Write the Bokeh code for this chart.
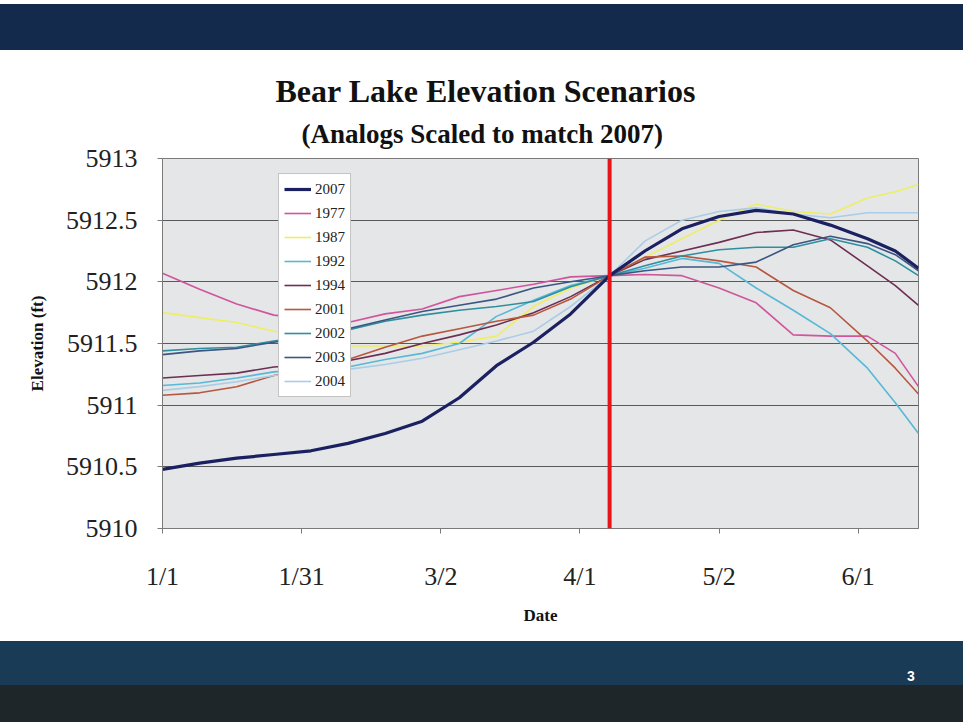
from bokeh.plotting import figure
from bokeh.layouts import column
from bokeh.models import (Span, Legend, LegendItem, Title, Div,
                          FixedTicker, NumeralTickFormatter, Range1d)
from bokeh.embed import file_html
from bokeh.resources import INLINE

# ---------------- data (days since Jan 1, elevation in ft) ----------------
days = [0, 8, 16, 24, 32, 40, 48, 56, 64, 72, 80, 88, 96.4,
        104, 112, 120, 128, 136, 144, 152, 158, 163]

elev_2007 = [5910.48, 5910.53, 5910.57, 5910.60, 5910.63, 5910.69, 5910.77, 5910.87,
             5911.06, 5911.32, 5911.51, 5911.74, 5912.05,
             5912.25, 5912.43, 5912.53, 5912.58, 5912.55, 5912.46, 5912.35, 5912.25, 5912.11]
elev_1977 = [5912.07, 5911.94, 5911.82, 5911.73, 5911.70, 5911.67, 5911.74, 5911.78,
             5911.88, 5911.93, 5911.98, 5912.04, 5912.05,
             5912.06, 5912.05, 5911.95, 5911.83, 5911.57, 5911.56, 5911.56, 5911.42, 5911.15]
elev_1987 = [5911.75, 5911.71, 5911.67, 5911.60, 5911.55, 5911.48, 5911.48, 5911.48,
             5911.51, 5911.56, 5911.80, 5911.95, 5912.05,
             5912.20, 5912.35, 5912.50, 5912.63, 5912.57, 5912.55, 5912.68, 5912.73, 5912.79]
elev_1992 = [5911.16, 5911.18, 5911.22, 5911.27, 5911.29, 5911.31, 5911.37, 5911.42,
             5911.50, 5911.72, 5911.85, 5911.97, 5912.05,
             5912.11, 5912.19, 5912.15, 5911.95, 5911.77, 5911.58, 5911.30, 5911.02, 5910.77]
elev_1994 = [5911.22, 5911.24, 5911.26, 5911.31, 5911.33, 5911.36, 5911.42, 5911.50,
             5911.57, 5911.65, 5911.75, 5911.88, 5912.05,
             5912.18, 5912.25, 5912.32, 5912.40, 5912.42, 5912.34, 5912.13, 5911.97, 5911.81]
elev_2001 = [5911.08, 5911.10, 5911.15, 5911.24, 5911.30, 5911.37, 5911.47, 5911.56,
             5911.62, 5911.68, 5911.73, 5911.86, 5912.05,
             5912.20, 5912.21, 5912.17, 5912.12, 5911.93, 5911.79, 5911.52, 5911.30, 5911.09]
elev_2002 = [5911.44, 5911.46, 5911.47, 5911.52, 5911.56, 5911.61, 5911.68, 5911.73,
             5911.77, 5911.80, 5911.84, 5911.96, 5912.05,
             5912.13, 5912.21, 5912.26, 5912.28, 5912.28, 5912.35, 5912.28, 5912.17, 5912.05]
elev_2003 = [5911.41, 5911.44, 5911.46, 5911.51, 5911.56, 5911.62, 5911.69, 5911.76,
             5911.81, 5911.86, 5911.95, 5912.00, 5912.05,
             5912.09, 5912.12, 5912.12, 5912.16, 5912.30, 5912.37, 5912.31, 5912.22, 5912.09]
elev_2004 = [5911.12, 5911.15, 5911.19, 5911.24, 5911.27, 5911.29, 5911.33, 5911.38,
             5911.45, 5911.52, 5911.60, 5911.80, 5912.05,
             5912.33, 5912.50, 5912.57, 5912.60, 5912.55, 5912.52, 5912.56, 5912.56, 5912.56]

series_names = ["2007", "1977", "1987", "1992", "1994", "2001", "2002", "2003", "2004"]
series_values = [elev_2007, elev_1977, elev_1987, elev_1992, elev_1994,
                 elev_2001, elev_2002, elev_2003, elev_2004]

x_ticks = [0, 30, 60, 90, 120, 150]
x_tick_labels = ["1/1", "1/31", "3/2", "4/1", "5/2", "6/1"]
y_ticks = [5910, 5910.5, 5911, 5911.5, 5912, 5912.5, 5913]
forecast_day = 96.4

# ---------------- styles ----------------
colors = {"2007": "#1b2060", "1977": "#d0559c", "1987": "#eeee66", "1992": "#58b8d6",
          "1994": "#6e2d52", "2001": "#b8563e", "2002": "#2e8f9e", "2003": "#3b5682",
          "2004": "#aacde6"}
widths = {"2007": 3.2}
SERIF = "Liberation Serif"
W = 963

p = figure(width=W, height=591, output_backend="svg", toolbar_location=None,
           x_range=Range1d(0, 163), y_range=Range1d(5910, 5913),
           min_border_left=162, min_border_right=45, min_border_top=108,
           min_border_bottom=113,
           background_fill_color="#e4e6e8", border_fill_color="white",
           outline_line_color="#7a7a7a", outline_line_width=1)

p.xgrid.visible = False
p.ygrid.grid_line_color = "#5a5a5a"
p.ygrid.grid_line_width = 1.2
p.ygrid.ticker = FixedTicker(ticks=y_ticks)

p.xaxis.ticker = FixedTicker(ticks=x_ticks)
p.xaxis.major_label_overrides = dict(zip(x_ticks, x_tick_labels))
p.yaxis.ticker = FixedTicker(ticks=y_ticks)
p.yaxis.formatter = NumeralTickFormatter(format="0.[0]")

for ax in (p.xaxis[0], p.yaxis[0]):
    ax.minor_tick_line_color = None
    ax.major_tick_in = 0
    ax.major_tick_out = 5
    ax.major_tick_line_color = "#7a7a7a"
    ax.axis_line_color = "#7a7a7a"
    ax.major_label_text_font = SERIF
    ax.major_label_text_font_size = "26px"
    ax.major_label_text_color = "#222222"
    ax.axis_label_text_font = SERIF
    ax.axis_label_text_font_style = "bold"
    ax.axis_label_text_font_size = "17px"
    ax.axis_label_text_color = "#111111"

p.xaxis.axis_label = "Date"
p.yaxis.axis_label = "Elevation (ft)"
p.xaxis.major_label_standoff = 28
p.yaxis.major_label_standoff = 20
p.xaxis.axis_label_standoff = 12
p.yaxis.axis_label_standoff = 16

# draw analog years first, 2007 on top
renderers = {}
for name, vals in list(zip(series_names, series_values))[1:] + [(series_names[0], series_values[0])]:
    renderers[name] = p.line(days, vals, line_color=colors[name],
                             line_width=widths.get(name, 1.6))

p.add_layout(Span(location=forecast_day, dimension="height",
                  line_color="#e8141c", line_width=4))

legend = Legend(items=[LegendItem(label=n, renderers=[renderers[n]]) for n in series_names],
                location=(116, 131), label_text_font=SERIF, label_text_font_size="15px",
                label_text_color="#222222", glyph_width=27, glyph_height=20,
                label_height=20, spacing=4, padding=5, margin=0, label_standoff=4,
                border_line_color="#8a8a8a", border_line_width=1,
                background_fill_color="white", background_fill_alpha=1.0)
p.add_layout(legend)

# titles (subtitle first: closest to the frame)
p.add_layout(Title(text="(Analogs Scaled to match 2007)", align="left", offset=139,
                   text_font=SERIF, text_font_style="bold", text_font_size="27px",
                   text_color="#111111", standoff=20), "above")
p.add_layout(Title(text="Bear Lake Elevation Scenarios", align="left", offset=113,
                   text_font=SERIF, text_font_style="bold", text_font_size="32px",
                   text_color="#111111", standoff=-5), "above")

# slide bands
top_band = Div(
    text=('<div style="position:relative;width:%dpx;height:50px;">'
          '<div style="position:absolute;left:0;top:4px;width:%dpx;height:46px;background:#132a4c;"></div>'
          '</div>') % (W, W),
    width=W, height=50, margin=0)
bottom_band = Div(
    text=('<div style="position:relative;width:%dpx;height:81px;">'
          '<div style="position:absolute;left:0;top:0;width:%dpx;height:44px;background:#1a3b55;"></div>'
          '<div style="position:absolute;left:0;top:44px;width:%dpx;height:37px;background:#1f2629;"></div>'
          '<span style="position:absolute;left:907px;top:25px;color:white;'
          'font-family:\'Liberation Sans\';font-weight:bold;font-size:14px;">3</span>'
          '</div>') % (W, W, W),
    width=W, height=81, margin=0)

layout = column(top_band, p, bottom_band, spacing=0)
open("out.html", "w").write(file_html(layout, INLINE))
